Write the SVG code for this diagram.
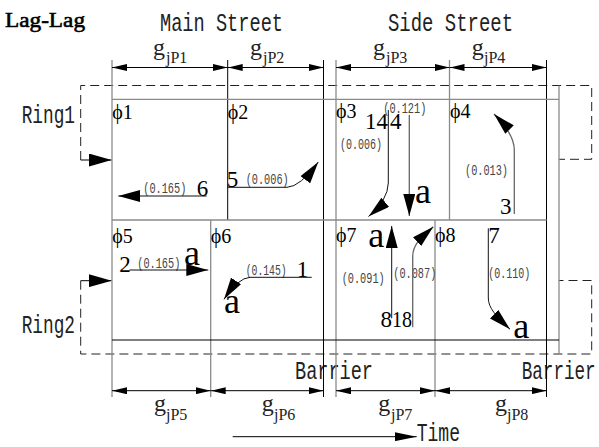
<svg xmlns="http://www.w3.org/2000/svg" width="599" height="447" viewBox="0 0 599 447">
  <defs>
    <style>
      .mono { font-family: "Liberation Mono", "DejaVu Sans Mono", monospace; font-size: 26px; fill: #222; }
      .small { font-family: "Liberation Mono", "DejaVu Sans Mono", monospace; font-size: 14px; fill: #444; }
      .serif { font-family: "Liberation Serif", "DejaVu Serif", serif; fill: #000; }
      .phi { font-family: "Liberation Serif", "DejaVu Serif", serif; font-size: 20px; fill: #000; }
      .num { font-family: "Liberation Serif", "DejaVu Serif", serif; font-size: 23px; fill: #000; }
      .lbl-a { font-family: "Liberation Serif", "DejaVu Serif", serif; font-size: 36px; fill: #000; }
      .g { font-family: "Liberation Serif", "DejaVu Serif", serif; font-size: 24px; fill: #222; }
      .sub { font-family: "Liberation Serif", "DejaVu Serif", serif; font-size: 16px; fill: #222; }
      .ln-k { stroke: #000; stroke-width: 1; fill: none; }
      .ln-g { stroke: #8a8a8a; stroke-width: 1.3; fill: none; }
      .dash { stroke: #222; stroke-width: 1; stroke-dasharray: 9 5; fill: none; }
      .dim { stroke: #000; stroke-width: 1; fill: none; marker-start: url(#headDim); marker-end: url(#headDim); }
      .mv { stroke: #111; stroke-width: 1; fill: none; marker-end: url(#headMove); }
      .mv-g { stroke: #666; stroke-width: 1.3; fill: none; marker-end: url(#headMove); }
    </style>
    <marker id="headMove" viewBox="0 0 22 12" refX="22" refY="6" markerWidth="22" markerHeight="12" markerUnits="userSpaceOnUse" orient="auto">
      <path d="M0,0 L22,6 L0,12 z" fill="#000"/>
    </marker>
    <marker id="headDim" viewBox="0 0 15 7" refX="15" refY="3.5" markerWidth="15" markerHeight="7" markerUnits="userSpaceOnUse" orient="auto-start-reverse">
      <path d="M0,0 L15,3.5 L0,7 z" fill="#000"/>
    </marker>
    <marker id="headRing" viewBox="0 0 23 13" refX="23" refY="6.5" markerWidth="23" markerHeight="13" markerUnits="userSpaceOnUse" orient="auto">
      <path d="M0,0 L23,6.5 L0,13 z" fill="#000"/>
    </marker>
    <marker id="headTime" viewBox="0 0 22 9" refX="22" refY="4.5" markerWidth="22" markerHeight="9" markerUnits="userSpaceOnUse" orient="auto">
      <path d="M0,0 L22,4.5 L0,9 z" fill="#000"/>
    </marker>
  </defs>

  <rect width="599" height="447" fill="#fff"/>

  <!-- headings -->
  <g id="titles">
    <text class="serif" x="5" y="26.7" font-size="22" stroke="#000" stroke-width="0.6" textLength="80" lengthAdjust="spacingAndGlyphs">Lag-Lag</text>
    <text class="mono" x="160" y="31" textLength="123" lengthAdjust="spacingAndGlyphs">Main Street</text>
    <text class="mono" x="388" y="31" textLength="125" lengthAdjust="spacingAndGlyphs">Side Street</text>
    <text class="mono" x="21.7" y="123.3" textLength="53.3" lengthAdjust="spacingAndGlyphs">Ring1</text>
    <text class="mono" x="21.7" y="333.3" textLength="53.3" lengthAdjust="spacingAndGlyphs">Ring2</text>
    <text class="mono" x="295" y="379.3" textLength="78" lengthAdjust="spacingAndGlyphs">Barrier</text>
    <text class="mono" x="521.7" y="379.3" textLength="74" lengthAdjust="spacingAndGlyphs">Barrier</text>
    <text class="mono" x="416.7" y="440.5" font-size="23" textLength="43.3" lengthAdjust="spacingAndGlyphs">Time</text>
  </g>

  <!-- dashed ring loops -->
  <g id="ring-loops">
    <path class="dash" d="M80.7,160 V85.5 H591.7 V159.3 H559"/>
    <path class="dash" d="M80.7,280.7 V354 H591.7 V280.5 H559"/>
    <line x1="80.7" y1="160" x2="111.7" y2="160" stroke="#000" stroke-width="1" marker-end="url(#headRing)"/>
    <line x1="80.7" y1="280.7" x2="111.7" y2="280.7" stroke="#000" stroke-width="1" marker-end="url(#headRing)"/>
  </g>

  <!-- phase grid -->
  <g id="grid">
    <line class="ln-g" x1="112" y1="60" x2="112" y2="397"/>
    <line class="ln-k" x1="227.7" y1="60" x2="227.7" y2="220"/>
    <line class="ln-g" x1="210.7" y1="220" x2="210.7" y2="397"/>
    <line class="ln-k" x1="323.5" y1="60" x2="323.5" y2="397"/>
    <line class="ln-g" x1="336" y1="60" x2="336" y2="397"/>
    <line class="ln-g" x1="449.5" y1="60" x2="449.5" y2="220"/>
    <line class="ln-g" x1="435" y1="220" x2="435" y2="397"/>
    <line class="ln-k" x1="546.5" y1="60" x2="546.5" y2="397"/>
    <line class="ln-g" x1="559" y1="85.5" x2="559" y2="354"/>
    <line class="ln-g" x1="112" y1="99.3" x2="559" y2="99.3"/>
    <line class="ln-g" x1="112" y1="220" x2="546.5" y2="220"/>
    <line class="ln-k" x1="112" y1="340" x2="559" y2="340"/>
  </g>

  <!-- green interval dimensions -->
  <g id="dimensions">
    <line class="dim" x1="112" y1="67.5" x2="227.7" y2="67.5"/>
    <line class="dim" x1="227.7" y1="67.5" x2="323.5" y2="67.5"/>
    <line class="dim" x1="336" y1="67.5" x2="449.5" y2="67.5"/>
    <line class="dim" x1="449.5" y1="67.5" x2="546.5" y2="67.5"/>
    <line class="dim" x1="112" y1="390.7" x2="210.7" y2="390.7"/>
    <line class="dim" x1="210.7" y1="390.7" x2="323.5" y2="390.7"/>
    <line class="dim" x1="336" y1="390.7" x2="435" y2="390.7"/>
    <line class="dim" x1="435" y1="390.7" x2="546.5" y2="390.7"/>

    <text class="g" x="153" y="55">g</text><text class="sub" x="166" y="63">jP1</text>
    <text class="g" x="250" y="55">g</text><text class="sub" x="263" y="63">jP2</text>
    <text class="g" x="373" y="55">g</text><text class="sub" x="386" y="63">jP3</text>
    <text class="g" x="471.7" y="55">g</text><text class="sub" x="484" y="63">jP4</text>
    <text class="g" x="154" y="411">g</text><text class="sub" x="166" y="420">jP5</text>
    <text class="g" x="261.7" y="411">g</text><text class="sub" x="274" y="420">jP6</text>
    <text class="g" x="378.3" y="411">g</text><text class="sub" x="391" y="420">jP7</text>
    <text class="g" x="495" y="411">g</text><text class="sub" x="507" y="420">jP8</text>
  </g>

  <!-- time axis -->
  <g id="time-axis">
    <line x1="232.7" y1="436.7" x2="416.7" y2="436.7" stroke="#000" stroke-width="1" marker-end="url(#headTime)"/>
  </g>

  <!-- phases -->
  <g id="phase-1">
    <text class="phi" x="112.3" y="119.3">ϕ1</text>
    <text class="small" x="143.3" y="193.3" textLength="43" lengthAdjust="spacingAndGlyphs">(0.165)</text>
    <text class="num" x="196.7" y="196" font-size="21">6</text>
  </g>
  <g id="phase-2">
    <text class="phi" x="227.7" y="119.3">ϕ2</text>
    <text class="num" x="226.7" y="187.3" font-size="21">5</text>
    <text class="small" x="245.7" y="184" textLength="43" lengthAdjust="spacingAndGlyphs">(0.006)</text>
  </g>
  <g id="phase-3">
    <text class="phi" x="336" y="118.3">ϕ3</text>
    <text class="num" x="365" y="129.3" font-size="26" textLength="23" lengthAdjust="spacingAndGlyphs">14</text>
    <text class="num" x="390" y="129.3" font-size="26">4</text>
    <text class="small" x="383.3" y="112.7" textLength="43" lengthAdjust="spacingAndGlyphs">(0.121)</text>
    <text class="small" x="340" y="149.3" textLength="42" lengthAdjust="spacingAndGlyphs">(0.006)</text>
    <text class="lbl-a" x="415" y="203.3">a</text>
  </g>
  <g id="phase-4">
    <text class="phi" x="450" y="118.3">ϕ4</text>
    <text class="small" x="465" y="175" textLength="43" lengthAdjust="spacingAndGlyphs">(0.013)</text>
    <text class="num" x="500" y="214">3</text>
  </g>
  <g id="phase-5">
    <text class="phi" x="112.3" y="243.3">ϕ5</text>
    <text class="num" x="119.3" y="271.7" font-size="24">2</text>
    <text class="small" x="137.3" y="268.3" textLength="43" lengthAdjust="spacingAndGlyphs">(0.165)</text>
    <text class="lbl-a" x="184" y="265">a</text>
  </g>
  <g id="phase-6">
    <text class="phi" x="210.7" y="243.3">ϕ6</text>
    <text class="small" x="245.7" y="275" textLength="41" lengthAdjust="spacingAndGlyphs">(0.145)</text>
    <text class="num" x="296.7" y="276.7" font-size="24">1</text>
    <text class="lbl-a" x="224" y="312.7">a</text>
  </g>
  <g id="phase-7">
    <text class="phi" x="336" y="241.7">ϕ7</text>
    <text class="lbl-a" x="368.3" y="246.7">a</text>
    <text class="small" x="341.7" y="283.3" textLength="43" lengthAdjust="spacingAndGlyphs">(0.091)</text>
    <text class="small" x="393.3" y="278.3" textLength="43" lengthAdjust="spacingAndGlyphs">(0.087)</text>
    <text class="num" x="380.5" y="327.3" font-size="25">8</text>
    <text class="num" x="392" y="327.3" font-size="25" textLength="20" lengthAdjust="spacingAndGlyphs">18</text>
  </g>
  <g id="phase-8">
    <text class="phi" x="435" y="241.7">ϕ8</text>
    <text class="num" x="488.3" y="243.3">7</text>
    <text class="small" x="488.3" y="278.3" textLength="42" lengthAdjust="spacingAndGlyphs">(0.110)</text>
    <text class="lbl-a" x="513.3" y="338.3">a</text>
  </g>

  <!-- movement arrows -->
  <g id="connectors">
    <path class="mv" d="M206.7,196 H118.3"/>
    <path class="mv" d="M227,187.3 H287 Q300,187 318.3,162"/>
    <path class="mv" d="M388.3,110 V183 Q388,200 368.5,216.5"/>
    <path class="mv-g" d="M409.3,115 V216"/>
    <path class="mv-g" d="M514.3,214 V150 C514.3,138 506,126 494,114"/>
    <path class="mv" d="M129.3,270 H208.3"/>
    <path class="mv" d="M311.7,277.3 H250 Q238,278 224,299.3"/>
    <path class="mv" d="M391.7,318.3 V226"/>
    <path class="mv-g" d="M412.7,327.3 V257 C412.7,244 421,238 433.3,226.7"/>
    <path class="mv" d="M488.3,228.3 V298 C488.3,308 496,316 510,329.3"/>
  </g>
</svg>
